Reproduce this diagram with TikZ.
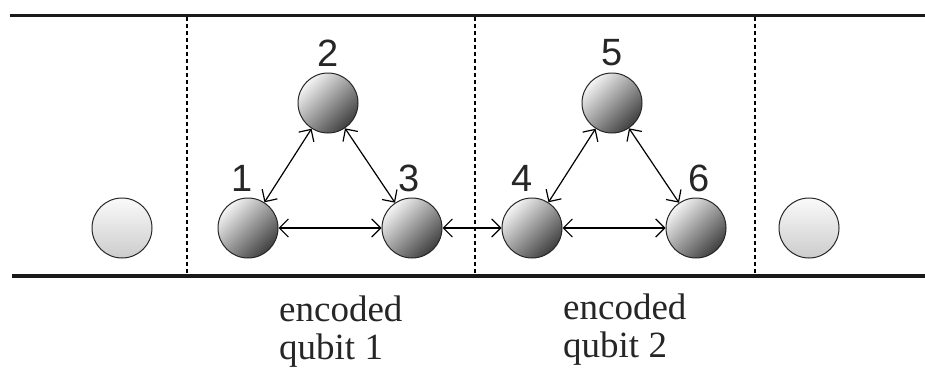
\documentclass[tikz,border=0pt]{standalone}
\usepackage{fontspec}
\setmainfont{Liberation Serif}
\newfontfamily\digitfont{Liberation Sans}
\usetikzlibrary{arrows.meta}
\usetikzlibrary{positioning}
\tikzset{
	ion/.style={
		circle,
		minimum size=60pt,
		inner sep=0pt,
		draw=black!85, line width=1pt,
		shading=axis,
		top color=gray!8,
		bottom color=black!75,
		shading angle=45},
	spare/.style={
		ion,
		top color=gray!4,
		bottom color=gray!40},
	num/.style={
		font=\digitfont\fontsize{38}{38}\selectfont,
		inner sep=0pt,
		text=black!85},
	link/.style={draw, line width=1.2pt, {Straight Barb[length=9pt,width=18pt]}-{Straight Barb[length=9pt,width=18pt]}},
	bound/.style={draw, line width=3.5pt, black!90},
	cut/.style={draw, line width=1.2pt, dash pattern=on 4pt off 3pt},
	caption/.style={
		font=\fontsize{37}{38}\selectfont,
		align=left,
		inner sep=0pt,
		anchor=north west,
		text=black!85},
}

\begin{document}
\begin{tikzpicture}[x=1pt,y=-1pt]
	\useasboundingbox (0,0) rectangle (925,372);
	% trap boundaries
	\coordinate (tl) at (10,15.5);
	\coordinate (tr) at (925,15.5);
	\coordinate (bl) at (12,276);
	\coordinate (br) at (925,276);
	\draw[bound] (tl) -- (tr);
	\draw[bound] (bl) -- (br);
	\foreach \x in {187,475,755}
		\draw[cut] (\x,17) -- (\x,274);

	% ions
	\node[spare] (left)  at (122,228) {};
	\node[ion]   (q1)    at (248,228) {};
	\node[ion]   (q2)    at (328,103) {};
	\node[ion]   (q3)    at (412,228) {};
	\node[ion]   (q4)    at (532,228) {};
	\node[ion]   (q5)    at (612,103) {};
	\node[ion]   (q6)    at (696,228) {};
	\node[spare] (right) at (809,228) {};

	\node[num] (n1) at (242,178) {1};
	\node[num] (n2) at (328,53)  {2};
	\node[num] (n3) at (409,178) {3};
	\node[num] (n4) at (522,178) {4};
	\node[num] (n5) at (612,53)  {5};
	\node[num] (n6) at (699,178) {6};

	% couplings
	\draw[link] (q1) -- (q2);
	\draw[link] (q2) -- (q3);
	\draw[link] (q1) -- (q3);
	\draw[link] (q3) -- (q4);
	\draw[link] (q4) -- (q5);
	\draw[link] (q5) -- (q6);
	\draw[link] (q4) -- (q6);

	\node[caption] (enc1) at (279,296) {encoded\\qubit 1};
	\node[caption] (enc2) at (563,294) {encoded\\qubit 2};
\end{tikzpicture}
\end{document}
